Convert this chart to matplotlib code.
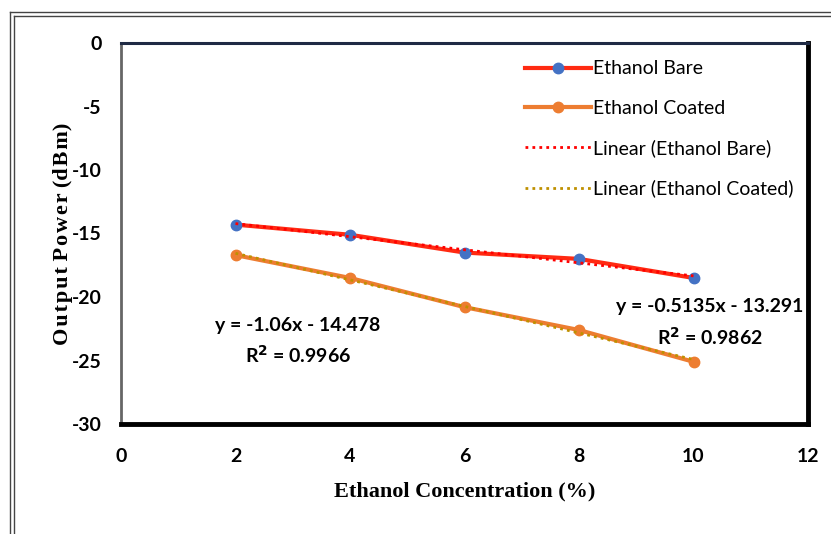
import matplotlib
matplotlib.use("Agg")
import matplotlib.pyplot as plt
from matplotlib.lines import Line2D
import numpy as np

x_vals = [2, 4, 6, 8, 10]
bare = [-14.3, -15.1, -16.5, -17.0, -18.5]
coated = [-16.7, -18.5, -20.8, -22.6, -25.1]
xticks = [0, 2, 4, 6, 8, 10, 12]
yticks = [0, -5, -10, -15, -20, -25, -30]

W, H = 831, 534
fig = plt.figure(figsize=(W / 100, H / 100), dpi=100)
ax = fig.add_axes([121 / W, 1 - 424 / H, (808 - 121) / W, (424 - 43) / H])

sans = ['Lato', 'Liberation Sans', 'DejaVu Sans']
serif = ['Liberation Serif', 'DejaVu Serif']
tick_font = {'family': sans, 'weight': 'bold', 'size': 14}

ax.plot(x_vals, bare, color='#FF2A12', lw=3, marker='o', ms=7.5, mfc='#4472C4', mec='#4472C4', zorder=3,
        label='Ethanol Bare')
ax.plot(x_vals, coated, color='#ED7D31', lw=3, marker='o', ms=7.5, mfc='#ED7D31', mec='#ED7D31', zorder=3,
        label='Ethanol Coated')

xa = np.array(x_vals, dtype=float)
pb = np.polyfit(xa, bare, 1)
pc = np.polyfit(xa, coated, 1)
ax.plot(xa, np.polyval(pb, xa), color='#FF0000', lw=2, ls=(0, (1, 1.5)), zorder=4, label='Linear (Ethanol Bare)')
ax.plot(xa, np.polyval(pc, xa), color='#BF9000', lw=2, ls=(0, (1, 1.5)), zorder=4, label='Linear (Ethanol Coated)')

ax.set_xlim(0, 12)
ax.set_ylim(-30, 0)
ax.set_xticks(xticks)
ax.set_yticks(yticks)
ax.set_xticklabels([str(t) for t in xticks], fontdict=tick_font)
ax.set_yticklabels([str(t) for t in yticks], fontdict=tick_font)
ax.tick_params(axis='x', length=0, pad=17)
ax.tick_params(axis='y', length=0, pad=14)

ax.spines['top'].set_linewidth(2.2)
ax.spines['top'].set_color('#1F2A44')
ax.spines['left'].set_linewidth(2)
ax.spines['left'].set_color('#666666')
for s in ['bottom', 'right']:
    ax.spines[s].set_linewidth(3.5)
    ax.spines[s].set_color('black')

ax.set_xlabel('Ethanol Concentration (%)', family=serif, weight='bold', size=16, labelpad=12)
ax.set_ylabel('O u t p u t  P o w e r  (d B m)'.replace(' ', '\u200a').replace('\u200a\u200a', ' '),
              family=serif, weight='bold', size=16, labelpad=-1)

leg = ax.legend(loc='upper right', bbox_to_anchor=(1.005, 1.0), frameon=False,
                prop={'family': sans, 'size': 14}, handlelength=3.4, labelspacing=1.15, handletextpad=0.1)

ann_font = {'family': sans, 'weight': 'bold', 'size': 14}
ax.text(3.09, -23.5, 'y = -1.06x - 14.478\nR$^\\mathbf{2}$ = 0.9966', ha='center', va='center', linespacing=1.55, **ann_font)
ax.text(10.29, -22.05, 'y = -0.5135x - 13.291\nR$^\\mathbf{2}$ = 0.9862', ha='center', va='center', linespacing=1.55, **ann_font)

# outer chart border (double line)
for off in [0, 4]:
    fig.add_artist(Line2D([(10 + off) / W, (10 + off) / W], [0, 1 - (12 + off) / H], transform=fig.transFigure,
                          color='#444444', lw=1))
    fig.add_artist(Line2D([(10 + off) / W, 1], [1 - (12 + off) / H, 1 - (12 + off) / H], transform=fig.transFigure,
                          color='#444444', lw=1))

fig.savefig('out.png', dpi=100)
